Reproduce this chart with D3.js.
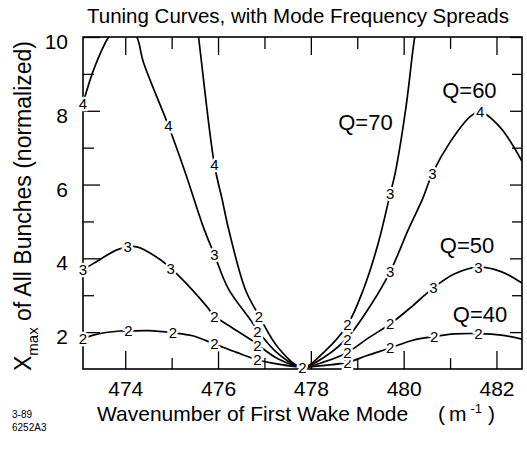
<!DOCTYPE html>
<html>
<head>
<meta charset="utf-8">
<script src="https://cdn.jsdelivr.net/npm/d3@7"></script>
<style>
  body { margin: 0; background: #fff; }
  svg { display: block; font-family: 'Liberation Sans', Arial, sans-serif; }
</style>
</head>
<body>
<div id="chart"></div>
<script>
// Axis domains and ticks (wavenumber in m^-1, Xmax normalized)
const X_DOMAIN = [473.09, 482.55]
const Y_DOMAIN = [1, 10]
const X_MAJOR = [474, 476, 478, 480, 482]
const X_MINOR = [475, 477, 479, 481]
const Y_MAJOR = [2, 4, 6, 8, 10]
const Y_MINOR = [3, 5, 7, 9]

// Tuning curves: [wavenumber, Xmax]
const Q40 = [
  [473.09, 1.82], [473.31, 1.92], [473.89, 2.03], [474.07, 2.03], [474.5, 2.04],
  [475.03, 1.98], [475.45, 1.9], [475.92, 1.68], [476.4, 1.45], [476.85, 1.25],
  [477.3, 1.13], [477.82, 1.05], [478.3, 1.1], [478.79, 1.18], [479.2, 1.36],
  [479.71, 1.57], [480.2, 1.78], [480.66, 1.88], [481.1, 1.95], [481.61, 1.96],
  [482.1, 1.92], [482.55, 1.81]
]
const Q50 = [
  [473.09, 3.69], [473.3, 3.85], [473.82, 4.23], [474.05, 4.31], [474.25, 4.31],
  [474.76, 3.96], [474.98, 3.72], [475.15, 3.53], [475.76, 2.69], [475.92, 2.43],
  [476.1, 2.28], [476.7, 1.8], [476.85, 1.66], [477.3, 1.27], [477.82, 1.05],
  [478.3, 1.2], [478.79, 1.45], [479.25, 1.85], [479.71, 2.22], [480.2, 2.72],
  [480.64, 3.2], [481.1, 3.58], [481.61, 3.76], [482.1, 3.64], [482.55, 3.33]
]
const Q60 = [
  [473.09, 8.2], [473.33, 9.15], [473.64, 10.0], [473.95, 10.5], [474.25, 10.0],
  [474.39, 9.32], [474.93, 7.6], [475.3, 6.3], [475.68, 4.86], [475.92, 4.1],
  [476.22, 3.18], [476.7, 2.33], [476.85, 2.05], [477.3, 1.41], [477.82, 1.05],
  [478.3, 1.33], [478.79, 1.85], [479.3, 2.75], [479.71, 3.64], [480.1, 4.78],
  [480.4, 5.59], [480.62, 6.3], [481.0, 7.15], [481.44, 7.85], [481.65, 7.97],
  [482.08, 7.55], [482.55, 6.63]
]
const Q70 = [
  [475.5, 10.8], [475.58, 10.0], [475.92, 6.55], [476.09, 5.59], [476.23, 4.78],
  [476.59, 3.15], [476.88, 2.45], [477.3, 1.57], [477.82, 1.05], [478.3, 1.48],
  [478.79, 2.2], [479.13, 3.15], [479.45, 4.4], [479.71, 5.75], [479.82, 6.33],
  [480.05, 8.1], [480.21, 9.75], [480.3, 10.5]
]

// Mode-frequency-spread numbers written along each curve: [wavenumber, Xmax, text]
const Q40_MARKS = [
  [473.09, 1.82, '2'], [474.07, 2.03, '2'], [475.03, 1.98, '2'], [475.92, 1.68, '2'],
  [476.85, 1.25, '2'], [478.79, 1.16, '2'], [479.71, 1.57, '2'], [480.66, 1.88, '2'],
  [481.61, 1.96, '2']
]
const Q50_MARKS = [
  [473.09, 3.69, '3'], [474.05, 4.31, '3'], [474.98, 3.72, '3'], [475.92, 2.43, '2'],
  [476.85, 1.64, '2'], [478.79, 1.45, '2'], [479.71, 2.22, '2'], [480.64, 3.2, '3'],
  [481.61, 3.76, '3']
]
const Q60_MARKS = [
  [473.09, 8.2, '4'], [474.93, 7.6, '4'], [475.92, 4.1, '3'], [476.85, 2.02, '2'],
  [478.79, 1.8, '2'], [479.71, 3.64, '3'], [480.62, 6.3, '3'], [481.65, 7.97, '4']
]
const Q70_MARKS = [
  [475.92, 6.55, '4'], [476.88, 2.42, '2'], [478.79, 2.2, '2'], [479.71, 5.75, '3']
]
const CENTER_MARK = [[477.82, 1.05, '2']]

// Curve names and where they are written (text start, baseline)
const Q_NAMES = ['Q=40', 'Q=50', 'Q=60', 'Q=70']
const Q_NAME_AT = [[481.06, 2.27], [480.78, 4.14], [480.83, 8.35], [478.59, 7.48]]

const W = 527, H = 449
const plot = { left: 83, right: 522, top: 37, bottom: 369 }

const svg = d3.select('#chart').append('svg')
  .attr('width', W).attr('height', H)

const x = d3.scaleLinear().domain(X_DOMAIN).range([plot.left, plot.right])
const y = d3.scaleLinear().domain(Y_DOMAIN).range([plot.bottom, plot.top])

svg.append('defs').append('clipPath').attr('id', 'plot-clip')
  .append('rect')
  .attr('x', plot.left).attr('y', plot.top)
  .attr('width', plot.right - plot.left).attr('height', plot.bottom - plot.top)

// Ticks, all pointing inward
function ticks(axis, tr, values, size, withLabels, pad) {
  const g = svg.append('g').attr('transform', tr)
    .call(axis.tickValues(values).tickSize(-size).tickPadding(pad || 3)
      .tickFormat(withLabels ? d3.format('d') : ''))
  g.select('.domain').remove()
  g.selectAll('line').attr('stroke', '#000').attr('stroke-width', 1.3)
  g.selectAll('text').attr('fill', '#000').attr('font-size', 21)
    .attr('font-family', "'Liberation Sans', Arial, sans-serif")
  return g
}

ticks(d3.axisBottom(x), `translate(0,${plot.bottom})`, X_MAJOR, 18, true, 12)
ticks(d3.axisBottom(x), `translate(0,${plot.bottom})`, X_MINOR, 11, false)
ticks(d3.axisTop(x), `translate(0,${plot.top})`, X_MAJOR, 18, false)
ticks(d3.axisTop(x), `translate(0,${plot.top})`, X_MINOR, 12, false)
ticks(d3.axisLeft(y), `translate(${plot.left},0)`, Y_MAJOR, 17, true, 15)
  .selectAll('text').attr('dy', '0.55em')
ticks(d3.axisLeft(y), `translate(${plot.left},0)`, Y_MINOR, 11, false)
ticks(d3.axisRight(y), `translate(${plot.right},0)`, Y_MAJOR, 12, false)
ticks(d3.axisRight(y), `translate(${plot.right},0)`, Y_MINOR, 10, false)

// Frame
svg.append('rect')
  .attr('x', plot.left).attr('y', plot.top)
  .attr('width', plot.right - plot.left).attr('height', plot.bottom - plot.top)
  .attr('fill', 'none').attr('stroke', '#000').attr('stroke-width', 1.6)

// Curves
const line = d3.line()
  .x(d => x(d[0]))
  .y(d => y(d[1]))
  .curve(d3.curveCatmullRom.alpha(0.5))

const curves = svg.append('g').attr('clip-path', 'url(#plot-clip)')
;[Q40, Q50, Q60, Q70].forEach(pts => {
  curves.append('path')
    .datum(pts)
    .attr('fill', 'none')
    .attr('stroke', '#000')
    .attr('stroke-width', 1.7)
    .attr('d', line)
})

// Numbers along the curves, with a white halo that breaks the line
const marks = [].concat(Q40_MARKS, Q50_MARKS, Q60_MARKS, Q70_MARKS, CENTER_MARK)
svg.append('g').selectAll('text')
  .data(marks)
  .join('text')
  .attr('x', d => x(d[0]))
  .attr('y', d => y(d[1]))
  .attr('dy', '0.36em')
  .attr('text-anchor', 'middle')
  .attr('font-size', 15)
  .attr('fill', '#000')
  .attr('stroke', '#fff')
  .attr('stroke-width', 4.5)
  .attr('paint-order', 'stroke')
  .text(d => d[2])

// Q labels
svg.append('g').selectAll('text')
  .data(Q_NAMES)
  .join('text')
  .attr('x', (d, i) => x(Q_NAME_AT[i][0]))
  .attr('y', (d, i) => y(Q_NAME_AT[i][1]))
  .attr('font-size', 22)
  .attr('fill', '#000')
  .text(d => d)

// Title
svg.append('text')
  .attr('x', 298).attr('y', 23)
  .attr('text-anchor', 'middle')
  .attr('font-size', 20.5)
  .text('Tuning Curves, with Mode Frequency Spreads')

// X axis title
svg.append('text')
  .attr('x', 97).attr('y', 421)
  .attr('font-size', 21)
  .text('Wavenumber of First Wake Mode')

const unit = svg.append('text')
  .attr('x', 438).attr('y', 421)
  .attr('font-size', 21)
unit.append('tspan').text('(')
unit.append('tspan').attr('dx', 4).text('m')
unit.append('tspan').attr('dx', 4).attr('dy', -8).attr('font-size', 13).text('-1')
unit.append('tspan').attr('dx', 6).attr('dy', 8).text(')')

// Y axis title
const yt = svg.append('text')
  .attr('transform', 'translate(31,206) rotate(-90)')
  .attr('text-anchor', 'middle')
  .attr('font-size', 23)
yt.append('tspan').text('X')
yt.append('tspan').attr('dy', 7).attr('font-size', 15).text('max')
yt.append('tspan').attr('dy', -7).text(' of All Bunches  (normalized)')

// Figure id in the corner
svg.append('text').attr('x', 12).attr('y', 418).attr('font-size', 10).text('3-89')
svg.append('text').attr('x', 12).attr('y', 431).attr('font-size', 10).text('6252A3')
</script>
</body>
</html>
